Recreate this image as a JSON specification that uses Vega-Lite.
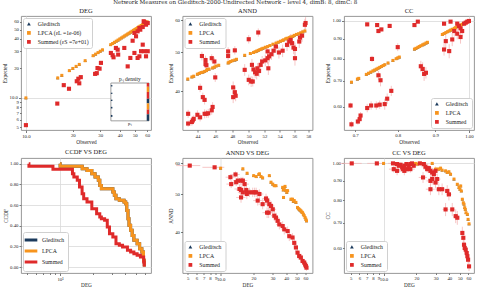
{
"$schema": "https://vega.github.io/schema/vega-lite/v6.json",
"padding": {"left": 2, "top": 0, "right": 0, "bottom": 0},
"background": "white",
"title": {"text": "Network Measures on Gleditsch-2000-Undirected Network – level 4, dimB: 8, dimC: 8", "font": "DejaVu Serif", "fontSize": 5.6, "fontWeight": "normal", "color": "#222", "offset": 1, "anchor": "start", "frame": "bounds", "dx": 111},
"config": {
  "font": "Liberation Serif",
  "view": {"stroke": "#8c8c8c", "strokeWidth": 0.9},
  "axis": {"domain": false, "grid": true, "gridColor": "#d9d9d9", "gridWidth": 0.8, "labelFontSize": 4.8, "labelColor": "#222", "titleFontSize": 5.3, "titleFontWeight": "normal", "titleColor": "#222", "tickColor": "#444", "tickWidth": 0.7, "tickSize": 2, "labelPadding": 1, "titlePadding": 1.5, "labelOverlap": false, "labelFlush": false, "labelBound": false},
  "title": {"fontSize": 6.5, "fontWeight": "normal", "color": "#222", "offset": 2},
  "legend": {"labelFontSize": 5.8, "labelColor": "#222", "fillColor": "white", "strokeColor": "#d0d0d0", "cornerRadius": 2, "padding": 3, "rowPadding": 2, "symbolSize": 14, "labelOffset": 6, "offset": 2, "symbolStrokeWidth": 0, "labelLimit": 200}
},
"datasets": {
"deg_lpca": [{"x":10,"y":10},{"x":16,"y":16},{"x":17,"y":17},{"x":19,"y":19},{"x":20,"y":20},{"x":21,"y":21},{"x":22,"y":22},{"x":24,"y":24},{"x":27,"y":27},{"x":28,"y":28},{"x":29,"y":29},{"x":30,"y":30},{"x":31,"y":31},{"x":35,"y":35},{"x":36,"y":36},{"x":37,"y":37},{"x":38,"y":38},{"x":39,"y":39},{"x":40,"y":40},{"x":41,"y":41},{"x":42,"y":42},{"x":43,"y":43},{"x":44,"y":44},{"x":45,"y":45},{"x":46,"y":46},{"x":47,"y":47},{"x":48,"y":48},{"x":49,"y":49},{"x":50,"y":50},{"x":51,"y":51},{"x":52,"y":52},{"x":53,"y":53},{"x":54,"y":54},{"x":55,"y":55},{"x":56,"y":56},{"x":57,"y":57},{"x":58,"y":58},{"x":59,"y":59},{"x":60,"y":60}],
"deg_sum": [{"x":10,"y":5.27},{"x":15.9,"y":8.75},{"x":17.5,"y":13.5},{"x":18.9,"y":12.4},{"x":21.2,"y":14.8},{"x":21.7,"y":15.7},{"x":22.5,"y":16.3},{"x":22,"y":14.1},{"x":27.8,"y":17.6},{"x":28.8,"y":20.2},{"x":29.7,"y":19.9},{"x":30.3,"y":22.8},{"x":28.5,"y":17.9},{"x":35.1,"y":28.8},{"x":36,"y":27.3},{"x":36.5,"y":26},{"x":37.8,"y":32.4},{"x":38.8,"y":31.1},{"x":39.1,"y":27.7},{"x":42.8,"y":32.4},{"x":45,"y":21},{"x":46.8,"y":25.6},{"x":49.7,"y":28.8},{"x":52.1,"y":25.6},{"x":53.5,"y":26.6},{"x":54.8,"y":30},{"x":57.6,"y":30},{"x":48.4,"y":38.4},{"x":50.9,"y":42.6},{"x":52.1,"y":47.9},{"x":54.2,"y":49.8},{"x":56.2,"y":53},{"x":59,"y":56},{"x":60.5,"y":58.2},{"x":57,"y":60.7},{"x":56.2,"y":35},{"x":59,"y":26.6},{"x":60.5,"y":30},{"x":49.7,"y":46.1},{"x":53.5,"y":51.8},{"x":57.6,"y":59.7}],
"inset_box": [{"x0":35.1,"x1":61.7,"y0":5.83,"y1":14.2}],
"inset_cells": [{"s":"Summed","x0":59.6,"x1":61.7,"y0":13,"y1":14.2},{"s":"LPCA","x0":59.6,"x1":61.7,"y0":11.5,"y1":13},{"s":"Summed","x0":59.6,"x1":61.7,"y0":9.8,"y1":11.5},{"s":"Gleditsch","x0":59.6,"x1":61.7,"y0":8.8,"y1":9.8},{"s":"LPCA","x0":59.6,"x1":61.7,"y0":7.6,"y1":8.8},{"s":"Summed","x0":59.6,"x1":61.7,"y0":6.8,"y1":7.6},{"s":"Gleditsch","x0":59.6,"x1":61.7,"y0":5.83,"y1":6.8},{"s":"Gleditsch","x0":35.1,"x1":35.9,"y0":13.1,"y1":13.5},{"s":"Gleditsch","x0":35.1,"x1":35.9,"y0":11,"y1":11.3},{"s":"Gleditsch","x0":35.1,"x1":35.9,"y0":9.3,"y1":9.6},{"s":"Gleditsch","x0":35.1,"x1":35.9,"y0":7.8,"y1":8.1},{"s":"Gleditsch","x0":35.1,"x1":35.9,"y0":6.4,"y1":6.7}],
"inset_title": [{"x":46.5,"y":14.7}],
"inset_xlabel": [{"x":46.5,"y":5.75}],
"annd_lpca": [{"x":42.96,"y":42.9},{"x":43.4,"y":43.4},{"x":43.6,"y":43.6},{"x":44,"y":44.1},{"x":44.2,"y":44.3},{"x":44.4,"y":44.5},{"x":44.6,"y":44.6},{"x":44.8,"y":44.8},{"x":45,"y":45},{"x":45.1,"y":45.3},{"x":45.3,"y":45.4},{"x":45.7,"y":45.7},{"x":45.9,"y":45.9},{"x":46.1,"y":46.2},{"x":46.4,"y":46.4},{"x":47.5,"y":47},{"x":47.6,"y":47.2},{"x":47.8,"y":47.4},{"x":48,"y":47.6},{"x":48.3,"y":47.8},{"x":48.5,"y":48},{"x":49.5,"y":49.1},{"x":50.2,"y":49.6},{"x":50.6,"y":49.9},{"x":50.8,"y":50.1},{"x":51,"y":50.3},{"x":51.2,"y":50.5},{"x":51.4,"y":50.7},{"x":51.6,"y":50.9},{"x":51.8,"y":51.1},{"x":52.1,"y":51.4},{"x":52.4,"y":51.6},{"x":52.7,"y":51.9},{"x":53.1,"y":52.3},{"x":53.5,"y":52.6},{"x":53.8,"y":52.9},{"x":54.1,"y":53.2},{"x":54.4,"y":53.4},{"x":54.5,"y":53.6},{"x":54.8,"y":53.9},{"x":55,"y":54.1},{"x":55.3,"y":54.3},{"x":55.5,"y":54.5},{"x":55.8,"y":54.7},{"x":56,"y":55},{"x":56.3,"y":55.3},{"x":56.6,"y":55.5},{"x":56.9,"y":55.8},{"x":57.2,"y":56.1},{"x":57.5,"y":56.4}],
"annd_sum": [{"x":43,"y":35.2,"ey":0.8},{"x":43,"y":33.3,"ey":0.6},{"x":43.4,"y":33.6,"ey":0.7},{"x":43.5,"y":33.9,"ey":0.8},{"x":43.6,"y":34.2,"ey":0.7},{"x":44,"y":35,"ey":0.9},{"x":44.3,"y":34.5,"ey":0.8},{"x":44.8,"y":35.2,"ey":0.9},{"x":45,"y":35.2,"ey":0.8},{"x":45.2,"y":35.3,"ey":0.9},{"x":45.6,"y":35.9,"ey":0.9},{"x":45.7,"y":36.6,"ey":1},{"x":44.3,"y":40.8,"ey":1},{"x":44.6,"y":38.7,"ey":1},{"x":44.8,"y":38.1,"ey":1},{"x":44.5,"y":48.9,"ey":1.2},{"x":44.9,"y":47.8,"ey":1.2},{"x":44.9,"y":46.7,"ey":1.2},{"x":45,"y":46.4,"ey":1.1},{"x":45.6,"y":48.3,"ey":1.1},{"x":45.9,"y":47.4,"ey":1.1},{"x":46,"y":43.3,"ey":1.1},{"x":47.5,"y":48.9,"ey":1.2},{"x":47.5,"y":50.2,"ey":1.2},{"x":48.3,"y":50.5,"ey":1.2},{"x":48.1,"y":38.7,"ey":1.3},{"x":48.1,"y":40.9,"ey":1.4},{"x":48.3,"y":39.8,"ey":1.2},{"x":48.4,"y":39,"ey":1.2},{"x":50,"y":53.8,"ey":1.3},{"x":51.2,"y":55.9,"ey":1.3},{"x":49.5,"y":45.2,"ey":1.5},{"x":50,"y":42.7,"ey":1.3},{"x":50.3,"y":42.3,"ey":1.3},{"x":50.5,"y":42.3,"ey":1.2},{"x":50.4,"y":46.5,"ey":1.6},{"x":50.6,"y":45.3,"ey":1.5},{"x":50.8,"y":44.6,"ey":1.5},{"x":51,"y":44.2,"ey":1.4},{"x":51.1,"y":45.6,"ey":1.4},{"x":51.3,"y":44.9,"ey":1.5},{"x":51.5,"y":46.5,"ey":1.5},{"x":51.7,"y":47.4,"ey":1.5},{"x":52.1,"y":47.7,"ey":1.6},{"x":52.4,"y":48.3,"ey":1.6},{"x":52.4,"y":50.2,"ey":1.6},{"x":52.6,"y":48.8,"ey":1.6},{"x":52.5,"y":45.6,"ey":1.7},{"x":52.9,"y":49.4,"ey":1.6},{"x":53.2,"y":50.4,"ey":1.7},{"x":53.5,"y":51.6,"ey":1.7},{"x":53.9,"y":49.9,"ey":1.7},{"x":54.4,"y":50.4,"ey":1.8},{"x":55,"y":52.1,"ey":1.8},{"x":55.3,"y":53.1,"ey":1.8},{"x":55.5,"y":53.6,"ey":1.8},{"x":55.7,"y":52.6,"ey":1.8},{"x":55.9,"y":51.3,"ey":1.9},{"x":56.1,"y":50.9,"ey":1.9},{"x":56.7,"y":53.1,"ey":1.9},{"x":56.8,"y":54.3,"ey":1.9},{"x":57.1,"y":54.9,"ey":1.9},{"x":56.1,"y":48.3,"ey":2},{"x":57.5,"y":58.4,"ey":2},{"x":57.6,"y":59,"ey":2}],
"cc_lpca": [{"x":0.692,"y":0.695},{"x":0.705,"y":0.708},{"x":0.708,"y":0.711},{"x":0.725,"y":0.728},{"x":0.73,"y":0.733},{"x":0.735,"y":0.738},{"x":0.74,"y":0.743},{"x":0.744,"y":0.747},{"x":0.748,"y":0.751},{"x":0.752,"y":0.755},{"x":0.756,"y":0.759},{"x":0.76,"y":0.763},{"x":0.764,"y":0.767},{"x":0.768,"y":0.771},{"x":0.776,"y":0.779},{"x":0.788,"y":0.791},{"x":0.796,"y":0.799},{"x":0.8,"y":0.803},{"x":0.804,"y":0.807},{"x":0.843,"y":0.846},{"x":0.847,"y":0.85},{"x":0.852,"y":0.855},{"x":0.856,"y":0.859},{"x":0.86,"y":0.863},{"x":0.865,"y":0.868},{"x":0.869,"y":0.872},{"x":0.874,"y":0.877},{"x":0.878,"y":0.881},{"x":0.92,"y":0.923},{"x":0.925,"y":0.928},{"x":0.93,"y":0.933},{"x":0.935,"y":0.938},{"x":0.94,"y":0.943},{"x":0.944,"y":0.947},{"x":0.949,"y":0.952},{"x":0.955,"y":0.957},{"x":0.959,"y":0.961},{"x":0.964,"y":0.966},{"x":0.969,"y":0.971},{"x":0.974,"y":0.976},{"x":0.979,"y":0.981},{"x":0.985,"y":0.986},{"x":0.99,"y":0.991},{"x":0.995,"y":0.996},{"x":1,"y":1}],
"cc_sum": [{"x":0.727,"y":0.98,"ey":0.01},{"x":0.75,"y":0.976,"ey":0.01},{"x":0.753,"y":0.942,"ey":0.012},{"x":0.76,"y":0.951,"ey":0.01},{"x":0.78,"y":0.971,"ey":0.01},{"x":0.843,"y":0.976,"ey":0.01},{"x":0.852,"y":0.996,"ey":0.005},{"x":0.925,"y":0.984,"ey":0.01},{"x":0.944,"y":0.996,"ey":0.005},{"x":0.964,"y":0.984,"ey":0.015},{"x":0.969,"y":0.971,"ey":0.02},{"x":0.974,"y":0.957,"ey":0.025},{"x":0.979,"y":0.942,"ey":0.03},{"x":0.985,"y":0.984,"ey":0.015},{"x":0.99,"y":0.99,"ey":0.01},{"x":0.995,"y":0.996,"ey":0.006},{"x":1,"y":1,"ey":0.004},{"x":0.955,"y":0.942,"ey":0.03},{"x":0.964,"y":0.927,"ey":0.03},{"x":0.974,"y":0.909,"ey":0.035},{"x":0.949,"y":0.896,"ey":0.035},{"x":0.93,"y":0.887,"ey":0.035},{"x":0.8,"y":0.856,"ey":0.02},{"x":0.925,"y":0.844,"ey":0.03},{"x":0.94,"y":0.836,"ey":0.035},{"x":0.86,"y":0.764,"ey":0.025},{"x":0.865,"y":0.752,"ey":0.03},{"x":0.869,"y":0.73,"ey":0.03},{"x":0.874,"y":0.735,"ey":0.025},{"x":0.738,"y":0.798,"ey":0.015},{"x":0.753,"y":0.724,"ey":0.02},{"x":0.758,"y":0.703,"ey":0.025},{"x":0.69,"y":0.605,"ey":0.01},{"x":0.692,"y":0.541,"ey":0.01},{"x":0.706,"y":0.55,"ey":0.01},{"x":0.71,"y":0.558,"ey":0.012},{"x":0.712,"y":0.57,"ey":0.012},{"x":0.727,"y":0.596,"ey":0.015},{"x":0.736,"y":0.605,"ey":0.015},{"x":0.748,"y":0.605,"ey":0.015},{"x":0.756,"y":0.608,"ey":0.015},{"x":0.768,"y":0.61,"ey":0.02},{"x":0.774,"y":0.63,"ey":0.02},{"x":0.784,"y":0.66,"ey":0.02}],
"ccdf_lpca": [{"x":10,"y":1},{"x":10.02,"y":0.974},{"x":16,"y":0.952},{"x":17.7,"y":0.935},{"x":19.6,"y":0.903},{"x":21,"y":0.871},{"x":22.5,"y":0.839},{"x":23.2,"y":0.79},{"x":24,"y":0.758},{"x":30.6,"y":0.726},{"x":31.6,"y":0.694},{"x":32.7,"y":0.661},{"x":35.1,"y":0.645},{"x":38.8,"y":0.629},{"x":40.2,"y":0.613},{"x":41.1,"y":0.548},{"x":42.2,"y":0.468},{"x":43.1,"y":0.403},{"x":44.6,"y":0.355},{"x":46.1,"y":0.306},{"x":47.8,"y":0.258},{"x":51.2,"y":0.226},{"x":54,"y":0.177},{"x":56.6,"y":0.145},{"x":58.6,"y":0.065},{"x":59.6,"y":0.006}],
"ccdf_sum": [{"x":5.15,"y":1},{"x":5.17,"y":0.974},{"x":8.6,"y":0.945},{"x":13,"y":0.903},{"x":13.4,"y":0.871},{"x":14.4,"y":0.839},{"x":15.1,"y":0.774},{"x":15.95,"y":0.71},{"x":16.5,"y":0.661},{"x":17.7,"y":0.629},{"x":19.6,"y":0.565},{"x":21.7,"y":0.516},{"x":23.2,"y":0.484},{"x":24,"y":0.468},{"x":25.7,"y":0.452},{"x":27.2,"y":0.387},{"x":28.5,"y":0.323},{"x":30.6,"y":0.29},{"x":32.7,"y":0.226},{"x":35.1,"y":0.21},{"x":37.6,"y":0.194},{"x":41.7,"y":0.161},{"x":44.6,"y":0.145},{"x":47.8,"y":0.129},{"x":51.2,"y":0.113},{"x":54.9,"y":0.097},{"x":58.8,"y":0.048},{"x":59.6,"y":0.006}],
"ad_lpca": [{"x":10,"y":58.3},{"x":16,"y":58.1},{"x":17.5,"y":56.6},{"x":20.1,"y":55.8},{"x":21.2,"y":55.5},{"x":22.4,"y":56.2},{"x":22.7,"y":56.4},{"x":23.5,"y":55.5},{"x":24.3,"y":55.1},{"x":28,"y":55.8},{"x":29,"y":53.7},{"x":30.1,"y":53.1},{"x":31.1,"y":52.6},{"x":32.2,"y":52.6},{"x":37.1,"y":52.1},{"x":37.6,"y":51.3},{"x":38.4,"y":51.6},{"x":39.8,"y":51.1},{"x":41.2,"y":51.1},{"x":37.8,"y":49.1},{"x":39,"y":52.4},{"x":40.5,"y":50.6},{"x":44.2,"y":48.6},{"x":45.7,"y":48.6},{"x":46.5,"y":48},{"x":47.4,"y":48.2},{"x":49.1,"y":47.7},{"x":50.8,"y":46.3},{"x":51.7,"y":46},{"x":52.6,"y":45.8},{"x":53.5,"y":45.6},{"x":54.5,"y":45.4},{"x":55.5,"y":45.1},{"x":56.5,"y":44.9},{"x":57.5,"y":44.5},{"x":58.5,"y":44.1},{"x":59.7,"y":43.6},{"x":60.6,"y":43.2},{"x":61.4,"y":42.8}],
"ad_sum": [{"x":5.21,"y":59.2,"ex":1.3,"ey":0.6},{"x":8.81,"y":58.6,"ex":2,"ey":0.6},{"x":12.3,"y":55.3,"ex":1.2,"ey":1},{"x":13.7,"y":56.2,"ex":1.3,"ey":1},{"x":12.5,"y":53.1,"ex":1.2,"ey":1.2},{"x":13.9,"y":53.7,"ex":1.4,"ey":1.2},{"x":14.4,"y":54.2,"ex":1.4,"ey":1.2},{"x":14.9,"y":51.6,"ex":1.5,"ey":1.4},{"x":15.4,"y":54.2,"ex":1.5,"ey":1.2},{"x":16,"y":54.2,"ex":1.6,"ey":1.2},{"x":16.6,"y":53.1,"ex":1.6,"ey":1.3},{"x":17.2,"y":51.3,"ex":1.7,"ey":1.4},{"x":15.4,"y":51.3,"ex":1.5,"ey":1.4},{"x":16,"y":50.6,"ex":1.6,"ey":1.5},{"x":17.4,"y":50.1,"ex":1.7,"ey":1.5},{"x":15.4,"y":49.1,"ex":1.5,"ey":1.5},{"x":18.4,"y":50.6,"ex":1.8,"ey":1.4},{"x":19.7,"y":50.6,"ex":1.9,"ey":1.4},{"x":20.5,"y":50.6,"ex":2,"ey":1.4},{"x":21.2,"y":50.6,"ex":2,"ey":1.4},{"x":21.9,"y":48.2,"ex":2,"ey":1.4},{"x":22.7,"y":50.1,"ex":2,"ey":1.4},{"x":24.3,"y":47.2,"ex":2,"ey":1.4},{"x":26.1,"y":48.8,"ex":2,"ey":1.4},{"x":26.7,"y":48.2,"ex":2,"ey":1.4},{"x":28,"y":47.2,"ex":2.2,"ey":1.4},{"x":29,"y":46.7,"ex":2.2,"ey":1.4},{"x":27.6,"y":44.9,"ex":2.5,"ey":1.4},{"x":26.7,"y":44.9,"ex":2.5,"ey":1.4},{"x":30.1,"y":45.8,"ex":2.2,"ey":1.4},{"x":31.1,"y":44.1,"ex":2.2,"ey":1.3},{"x":32.2,"y":43.6,"ex":2.2,"ey":1.3},{"x":33.4,"y":42.8,"ex":2.2,"ey":1.3},{"x":34.6,"y":41.9,"ex":2.2,"ey":1.2},{"x":37.1,"y":41.5,"ex":2.2,"ey":1.2},{"x":38.4,"y":40.7,"ex":2.2,"ey":1.2},{"x":41.2,"y":40.3,"ex":2.2,"ey":1.1},{"x":42.7,"y":39.1,"ex":2,"ey":1.1},{"x":45.7,"y":38.8,"ex":2,"ey":1},{"x":47.4,"y":37.6,"ex":2,"ey":1},{"x":49.1,"y":36.6,"ex":2,"ey":0.9},{"x":50.8,"y":35.5,"ex":1.8,"ey":0.9},{"x":52.6,"y":34.8,"ex":1.6,"ey":0.8},{"x":54.5,"y":34.5,"ex":1.5,"ey":0.8},{"x":56.5,"y":33.8,"ex":1.4,"ey":0.7},{"x":58.5,"y":33.5,"ex":1.3,"ey":0.7},{"x":59.7,"y":33.1,"ex":1.2,"ey":0.6},{"x":60.6,"y":32.8,"ex":1.1,"ey":0.6},{"x":61.4,"y":32.5,"ex":1,"ey":0.6}],
"cd_lpca": [{"x":10,"y":1},{"x":19.6,"y":1},{"x":20.3,"y":0.996},{"x":21.8,"y":1},{"x":23.4,"y":0.996},{"x":27.9,"y":1},{"x":29.9,"y":0.966},{"x":31,"y":0.966},{"x":32.1,"y":0.966},{"x":33.3,"y":0.972},{"x":34.4,"y":0.96},{"x":37,"y":0.956},{"x":38.3,"y":0.947},{"x":39.7,"y":0.951},{"x":41.1,"y":0.937},{"x":44.2,"y":0.91},{"x":47.4,"y":0.882},{"x":49.1,"y":0.865},{"x":50.9,"y":0.873},{"x":50.1,"y":0.856},{"x":51.6,"y":0.847},{"x":52.7,"y":0.806},{"x":53.8,"y":0.789},{"x":54.6,"y":0.782},{"x":55.4,"y":0.766},{"x":56.1,"y":0.758},{"x":57,"y":0.743},{"x":58.6,"y":0.736},{"x":59.5,"y":0.714},{"x":60.7,"y":0.695}],
"cd_sum": [{"x":5.11,"y":1,"ex":1.2,"ey":0.005},{"x":8.68,"y":1,"ex":1.6,"ey":0.005},{"x":12.2,"y":1,"ex":1.2,"ey":0.01},{"x":13.3,"y":0.996,"ex":1.3,"ey":0.01},{"x":13.8,"y":0.986,"ex":1.3,"ey":0.015},{"x":14.3,"y":0.992,"ex":1.4,"ey":0.012},{"x":14.8,"y":0.976,"ex":1.5,"ey":0.02},{"x":15.5,"y":0.986,"ex":1.5,"ey":0.015},{"x":16.2,"y":0.996,"ex":1.6,"ey":0.01},{"x":17,"y":0.986,"ex":1.7,"ey":0.015},{"x":17.6,"y":0.996,"ex":1.7,"ey":0.01},{"x":18.2,"y":1,"ex":1.8,"ey":0.008},{"x":12.4,"y":0.966,"ex":1.2,"ey":0.02},{"x":13.3,"y":0.956,"ex":1.3,"ey":0.025},{"x":15.1,"y":0.966,"ex":1.5,"ey":0.02},{"x":15.5,"y":0.956,"ex":1.5,"ey":0.025},{"x":16.4,"y":0.966,"ex":1.6,"ey":0.02},{"x":17.6,"y":0.966,"ex":1.7,"ey":0.02},{"x":18.9,"y":0.986,"ex":1.8,"ey":0.015},{"x":21.5,"y":1,"ex":2,"ey":0.008},{"x":23.4,"y":0.996,"ex":2,"ey":0.01},{"x":24.2,"y":0.98,"ex":2,"ey":0.02},{"x":25.1,"y":0.966,"ex":2,"ey":0.02},{"x":26,"y":0.972,"ex":2,"ey":0.02},{"x":26.9,"y":0.956,"ex":2.2,"ey":0.025},{"x":27.9,"y":0.947,"ex":2.2,"ey":0.025},{"x":28.9,"y":0.937,"ex":2.2,"ey":0.025},{"x":29.9,"y":0.956,"ex":2.2,"ey":0.025},{"x":23,"y":0.919,"ex":2,"ey":0.03},{"x":26.9,"y":0.9,"ex":2.2,"ey":0.03},{"x":27.9,"y":0.91,"ex":2.2,"ey":0.03},{"x":29.9,"y":0.891,"ex":2.2,"ey":0.03},{"x":31,"y":0.91,"ex":2.2,"ey":0.03},{"x":26.9,"y":0.856,"ex":2.5,"ey":0.03},{"x":32.1,"y":0.856,"ex":2.2,"ey":0.03},{"x":34.4,"y":0.856,"ex":2.2,"ey":0.03},{"x":38.3,"y":0.847,"ex":2.2,"ey":0.03},{"x":39.7,"y":0.83,"ex":2.2,"ey":0.03},{"x":37,"y":0.758,"ex":2.2,"ey":0.03},{"x":42.6,"y":0.758,"ex":2.2,"ey":0.03},{"x":45.8,"y":0.728,"ex":2,"ey":0.03},{"x":47.4,"y":0.721,"ex":2,"ey":0.03},{"x":52.7,"y":0.658,"ex":1.6,"ey":0.025},{"x":53.8,"y":0.639,"ex":1.5,"ey":0.025},{"x":54.6,"y":0.613,"ex":1.4,"ey":0.02},{"x":55.4,"y":0.601,"ex":1.4,"ey":0.02},{"x":56.6,"y":0.595,"ex":1.3,"ey":0.02},{"x":57.8,"y":0.583,"ex":1.3,"ey":0.02},{"x":58.6,"y":0.572,"ex":1.2,"ey":0.015},{"x":59.5,"y":0.56,"ex":1.2,"ey":0.015},{"x":60.7,"y":0.538,"ex":1.1,"ey":0.015}]
},
"columns": 3,
"spacing": {"row": 28, "column": 31.5},
"bounds": "flush",
"resolve": {"scale": {"color": "independent", "shape": "independent"}, "legend": {"color": "independent", "shape": "independent"}},
"concat": [
{
 "title": "DEG", "width": 130, "height": 114,
 "encoding": {
  "x": {"field": "x", "type": "quantitative", "title": "Observed", "scale": {"type": "log", "domain": [9.3, 63.5], "nice": false}, "axis": {"values": [10,20,30,40,50,60], "labelExpr": "datum.value == 10 ? '10.0' : format(datum.value, 'd')", "gridOpacity": {"condition": {"test": "datum.value == 10", "value": 1}, "value": 0}, "tickSize": {"condition": {"test": "datum.value == 10", "value": 2.5}, "value": 1.5}}},
  "y": {"field": "y", "type": "quantitative", "title": "Expected", "scale": {"type": "log", "domain": [4.7, 68.7], "nice": false}, "axis": {"values": [5,6,7,8,9,10,20,30,40,50,60], "labelExpr": "datum.value == 10 ? '10.0' : format(datum.value, 'd')", "gridOpacity": {"condition": {"test": "datum.value == 10", "value": 1}, "value": 0}, "tickSize": {"condition": {"test": "datum.value == 10", "value": 2.5}, "value": 1.5}}}
 },
 "layer": [
  {"data": {"name": "deg_lpca"}, "mark": {"type": "point", "filled": true, "size": 10, "opacity": 1}, "encoding": {
   "color": {"datum": "Gleditsch", "type": "nominal", "scale": {"domain": ["Gleditsch","LPCA","Summed"], "range": ["#1b3a5c","#f7941d","#df2a2a"]}, "legend": {"orient": "top-left", "title": null, "labelExpr": "datum.label == 'LPCA' ? 'LPCA (εL =1e-06)' : datum.label == 'Summed' ? 'Summed (εS =7e+01)' : datum.label"}},
   "shape": {"datum": "Gleditsch", "type": "nominal", "scale": {"domain": ["Gleditsch","LPCA","Summed"], "range": ["triangle-up","square","square"]}, "legend": {"orient": "top-left", "title": null, "labelExpr": "datum.label == 'LPCA' ? 'LPCA (εL =1e-06)' : datum.label == 'Summed' ? 'Summed (εS =7e+01)' : datum.label"}}}},
  {"data": {"name": "deg_lpca"}, "mark": {"type": "point", "filled": true, "size": 9, "opacity": 1}, "encoding": {"color": {"datum": "LPCA", "type": "nominal"}, "shape": {"datum": "LPCA", "type": "nominal"}}},
  {"data": {"name": "deg_sum"}, "mark": {"type": "point", "filled": true, "size": 17, "opacity": 1}, "encoding": {"color": {"datum": "Summed", "type": "nominal"}, "shape": {"datum": "Summed", "type": "nominal"}}},
  {"data": {"name": "inset_box"}, "mark": {"type": "rect", "fill": "white", "stroke": "#888", "strokeWidth": 0.8}, "encoding": {"x": {"field": "x0", "type": "quantitative", "title": "Observed"}, "x2": {"field": "x1"}, "y": {"field": "y0", "type": "quantitative", "title": "Expected"}, "y2": {"field": "y1"}}},
  {"data": {"name": "inset_cells"}, "mark": {"type": "rect"}, "encoding": {"x": {"field": "x0", "type": "quantitative", "title": "Observed"}, "x2": {"field": "x1"}, "y": {"field": "y0", "type": "quantitative", "title": "Expected"}, "y2": {"field": "y1"}, "color": {"field": "s", "type": "nominal", "legend": null}}},
  {"data": {"name": "inset_title"}, "mark": {"type": "text", "text": "pᵢⱼ density", "fontSize": 5.5, "baseline": "bottom", "align": "center", "color": "#222"}},
  {"data": {"name": "inset_xlabel"}, "mark": {"type": "text", "text": "pᵢⱼ", "fontSize": 4.5, "baseline": "top", "align": "center", "color": "#222"}}
 ]
},
{
 "title": "ANND", "width": 130, "height": 114,
 "encoding": {
  "x": {"field": "x", "type": "quantitative", "title": "Observed", "scale": {"type": "log", "domain": [42.4, 58.6], "nice": false}, "axis": {"values": [44,46,48,50,52,54,56,58], "format": "d", "grid": false}},
  "y": {"field": "y", "type": "quantitative", "title": "Expected", "scale": {"type": "log", "domain": [32.1, 61.4], "nice": false}, "axis": {"values": [40,50,60], "format": "d", "grid": false}}
 },
 "layer": [
  {"data": {"name": "annd_lpca"}, "mark": {"type": "point", "filled": true, "size": 10, "opacity": 1}, "encoding": {"color": {"datum": "Gleditsch", "type": "nominal", "scale": {"domain": ["Gleditsch","LPCA","Summed"], "range": ["#1b3a5c","#f7941d","#df2a2a"]}, "legend": {"orient": "top-left", "title": null}}, "shape": {"datum": "Gleditsch", "type": "nominal", "scale": {"domain": ["Gleditsch","LPCA","Summed"], "range": ["triangle-up","square","square"]}, "legend": {"orient": "top-left", "title": null}}}},
  {"data": {"name": "annd_sum"}, "mark": {"type": "errorbar", "color": "#f4b8b8", "rule": {"strokeWidth": 0.8}}, "encoding": {"yError": {"field": "ey"}}},
  {"data": {"name": "annd_lpca"}, "mark": {"type": "point", "filled": true, "size": 9, "opacity": 1}, "encoding": {"color": {"datum": "LPCA", "type": "nominal"}, "shape": {"datum": "LPCA", "type": "nominal"}}},
  {"data": {"name": "annd_sum"}, "mark": {"type": "point", "filled": true, "size": 17, "opacity": 1}, "encoding": {"color": {"datum": "Summed", "type": "nominal"}, "shape": {"datum": "Summed", "type": "nominal"}}}
 ]
},
{
 "title": "CC", "width": 130, "height": 114,
 "encoding": {
  "x": {"field": "x", "type": "quantitative", "title": "Observed", "scale": {"type": "log", "domain": [0.676, 1.016], "nice": false}, "axis": {"values": [0.7,0.8,0.9,1], "labelExpr": "datum.value == 1 ? '1.00' : format(datum.value, '.1f')", "gridOpacity": {"condition": {"test": "datum.value == 1", "value": 1}, "value": 0}, "tickSize": {"condition": {"test": "datum.value == 1", "value": 2.5}, "value": 1.5}}},
  "y": {"field": "y", "type": "quantitative", "title": "Expected", "scale": {"type": "log", "domain": [0.523, 1.03], "nice": false}, "axis": {"values": [0.6,0.7,0.8,0.9,1], "format": ".2f", "gridOpacity": {"condition": {"test": "datum.value == 1", "value": 1}, "value": 0}, "tickSize": {"condition": {"test": "datum.value == 1", "value": 2.5}, "value": 1.5}}}
 },
 "layer": [
  {"data": {"name": "cc_lpca"}, "mark": {"type": "point", "filled": true, "size": 10, "opacity": 1}, "encoding": {"color": {"datum": "Gleditsch", "type": "nominal", "scale": {"domain": ["Gleditsch","LPCA","Summed"], "range": ["#1b3a5c","#f7941d","#df2a2a"]}, "legend": {"orient": "bottom-right", "title": null}}, "shape": {"datum": "Gleditsch", "type": "nominal", "scale": {"domain": ["Gleditsch","LPCA","Summed"], "range": ["triangle-up","square","square"]}, "legend": {"orient": "bottom-right", "title": null}}}},
  {"data": {"name": "cc_sum"}, "mark": {"type": "errorbar", "color": "#f4b8b8", "rule": {"strokeWidth": 0.8}}, "encoding": {"yError": {"field": "ey"}}},
  {"data": {"name": "cc_lpca"}, "mark": {"type": "point", "filled": true, "size": 9, "opacity": 1}, "encoding": {"color": {"datum": "LPCA", "type": "nominal"}, "shape": {"datum": "LPCA", "type": "nominal"}}},
  {"data": {"name": "cc_sum"}, "mark": {"type": "point", "filled": true, "size": 17, "opacity": 1}, "encoding": {"color": {"datum": "Summed", "type": "nominal"}, "shape": {"datum": "Summed", "type": "nominal"}}}
 ]
},
{
 "title": "CCDF VS DEG", "width": 130, "height": 115,
 "encoding": {
  "x": {"field": "x", "type": "quantitative", "title": "DEG", "scale": {"type": "log", "domain": [4.37, 68.7], "nice": false}, "axis": {"values": [5,6,7,8,9,10,20,30,40,50,60], "labelExpr": "datum.value == 10 ? '10¹' : ''", "gridOpacity": {"condition": {"test": "datum.value == 10", "value": 1}, "value": 0}, "tickSize": {"condition": {"test": "datum.value == 10", "value": 2.5}, "value": 1.5}}},
  "y": {"field": "y", "type": "quantitative", "title": "CCDF", "scale": {"type": "linear", "domain": [-0.058, 1.055], "nice": false, "zero": false}, "axis": {"values": [0,0.2,0.4,0.6,0.8,1], "format": ".2f"}}
 },
 "layer": [
  {"data": {"name": "ccdf_lpca"}, "mark": {"type": "line", "interpolate": "step-after", "strokeWidth": 3}, "encoding": {"color": {"datum": "Gleditsch", "type": "nominal", "scale": {"domain": ["Gleditsch","LPCA","Summed"], "range": ["#1b3a5c","#f7941d","#df2a2a"]}, "legend": {"orient": "bottom-left", "title": null, "symbolType": "M-2,0H2", "symbolStrokeWidth": 3, "symbolSize": 40, "rowPadding": -5}}}},
  {"data": {"name": "ccdf_lpca"}, "mark": {"type": "line", "interpolate": "step-after", "strokeWidth": 3}, "encoding": {"color": {"datum": "LPCA", "type": "nominal"}}},
  {"data": {"name": "ccdf_sum"}, "mark": {"type": "line", "interpolate": "step-after", "strokeWidth": 3}, "encoding": {"color": {"datum": "Summed", "type": "nominal"}}}
 ]
},
{
 "title": "ANND VS DEG", "width": 130, "height": 115,
 "encoding": {
  "x": {"field": "x", "type": "quantitative", "title": "DEG", "scale": {"type": "log", "domain": [4.47, 69.7], "nice": false}, "axis": {"values": [5,6,7,8,9,10,20,30,40,50,60], "labelExpr": "datum.value == 10 ? '10.0' : format(datum.value, 'd')", "gridOpacity": {"condition": {"test": "datum.value == 10", "value": 1}, "value": 0}, "tickSize": {"condition": {"test": "datum.value == 10", "value": 2.5}, "value": 1.5}}},
  "y": {"field": "y", "type": "quantitative", "title": "ANND", "scale": {"type": "log", "domain": [31.5, 61.9], "nice": false}, "axis": {"values": [40,50,60], "format": "d", "grid": false}}
 },
 "layer": [
  {"data": {"name": "ad_lpca"}, "mark": {"type": "point", "filled": true, "size": 10, "opacity": 1}, "encoding": {"color": {"datum": "Gleditsch", "type": "nominal", "scale": {"domain": ["Gleditsch","LPCA","Summed"], "range": ["#1b3a5c","#f7941d","#df2a2a"]}, "legend": {"orient": "bottom-left", "title": null}}, "shape": {"datum": "Gleditsch", "type": "nominal", "scale": {"domain": ["Gleditsch","LPCA","Summed"], "range": ["triangle-up","square","square"]}, "legend": {"orient": "bottom-left", "title": null}}}},
  {"data": {"name": "ad_sum"}, "mark": {"type": "errorbar", "color": "#f4b8b8", "rule": {"strokeWidth": 0.8}}, "encoding": {"yError": {"field": "ey"}}},
  {"data": {"name": "ad_sum"}, "mark": {"type": "errorbar", "color": "#f4b8b8", "rule": {"strokeWidth": 0.8}}, "encoding": {"xError": {"field": "ex"}}},
  {"data": {"name": "ad_lpca"}, "mark": {"type": "point", "filled": true, "size": 9, "opacity": 1}, "encoding": {"color": {"datum": "LPCA", "type": "nominal"}, "shape": {"datum": "LPCA", "type": "nominal"}}},
  {"data": {"name": "ad_sum"}, "mark": {"type": "point", "filled": true, "size": 17, "opacity": 1}, "encoding": {"color": {"datum": "Summed", "type": "nominal"}, "shape": {"datum": "Summed", "type": "nominal"}}}
 ]
},
{
 "title": "CC VS DEG", "width": 130, "height": 115,
 "encoding": {
  "x": {"field": "x", "type": "quantitative", "title": "DEG", "scale": {"type": "log", "domain": [4.34, 67.4], "nice": false}, "axis": {"values": [5,6,7,8,9,10,20,30,40,50,60], "labelExpr": "datum.value == 10 ? '10.0' : format(datum.value, 'd')", "gridOpacity": {"condition": {"test": "datum.value == 10", "value": 1}, "value": 0}, "tickSize": {"condition": {"test": "datum.value == 10", "value": 2.5}, "value": 1.5}}},
  "y": {"field": "y", "type": "quantitative", "title": "CC", "scale": {"type": "log", "domain": [0.517, 1.033], "nice": false}, "axis": {"values": [0.6,0.7,0.8,0.9,1], "format": ".2f", "gridOpacity": {"condition": {"test": "datum.value == 1", "value": 1}, "value": 0}, "tickSize": {"condition": {"test": "datum.value == 1", "value": 2.5}, "value": 1.5}}}
 },
 "layer": [
  {"data": {"name": "cd_lpca"}, "mark": {"type": "point", "filled": true, "size": 10, "opacity": 1}, "encoding": {"color": {"datum": "Gleditsch", "type": "nominal", "scale": {"domain": ["Gleditsch","LPCA","Summed"], "range": ["#1b3a5c","#f7941d","#df2a2a"]}, "legend": {"orient": "bottom-left", "title": null}}, "shape": {"datum": "Gleditsch", "type": "nominal", "scale": {"domain": ["Gleditsch","LPCA","Summed"], "range": ["triangle-up","square","square"]}, "legend": {"orient": "bottom-left", "title": null}}}},
  {"data": {"name": "cd_sum"}, "mark": {"type": "errorbar", "color": "#f4b8b8", "rule": {"strokeWidth": 0.8}}, "encoding": {"yError": {"field": "ey"}}},
  {"data": {"name": "cd_sum"}, "mark": {"type": "errorbar", "color": "#f4b8b8", "rule": {"strokeWidth": 0.8}}, "encoding": {"xError": {"field": "ex"}}},
  {"data": {"name": "cd_lpca"}, "mark": {"type": "point", "filled": true, "size": 9, "opacity": 1}, "encoding": {"color": {"datum": "LPCA", "type": "nominal"}, "shape": {"datum": "LPCA", "type": "nominal"}}},
  {"data": {"name": "cd_sum"}, "mark": {"type": "point", "filled": true, "size": 17, "opacity": 1}, "encoding": {"color": {"datum": "Summed", "type": "nominal"}, "shape": {"datum": "Summed", "type": "nominal"}}}
 ]
}
]
}
